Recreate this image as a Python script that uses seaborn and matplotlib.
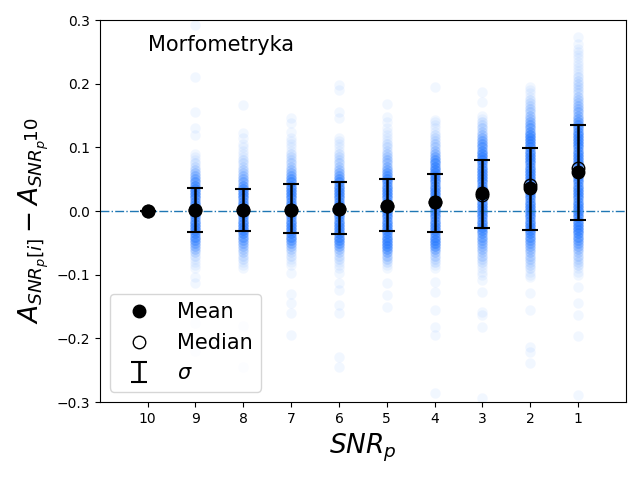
import numpy as np
import pandas as pd
import matplotlib
matplotlib.use("Agg")
import matplotlib.pyplot as plt
from matplotlib.transforms import IdentityTransform
import seaborn as sns

labels = ["10", "9", "8", "7", "6", "5", "4", "3", "2", "1"]

# A(SNR_p[i]) - A(SNR_p 10) for every galaxy, binned at 0.005: bin centres and
# how many galaxies fall in each bin per SNR_p (estimated from the point clouds)
grid = [-0.100, -0.095, -0.090, -0.085, -0.080, -0.075, -0.070, -0.065, -0.060, -0.055,
        -0.050, -0.045, -0.040, -0.035, -0.030, -0.025, -0.020, -0.015, -0.010, -0.005,
        0.000, 0.005, 0.010, 0.015, 0.020, 0.025, 0.030, 0.035, 0.040, 0.045,
        0.050, 0.055, 0.060, 0.065, 0.070, 0.075, 0.080, 0.085, 0.090, 0.095,
        0.100, 0.105, 0.110, 0.115, 0.120, 0.125, 0.130, 0.135, 0.140, 0.145,
        0.150, 0.155, 0.160, 0.165, 0.170, 0.175, 0.180, 0.185, 0.190, 0.195,
        0.200, 0.205, 0.210, 0.215, 0.220, 0.225, 0.230, 0.235, 0.240, 0.245, 0.250]

cnt9 = [0, 0, 1, 1, 1, 1, 2, 3, 4, 5, 6, 8, 10, 10, 10, 10, 10, 10, 10, 10,
        10, 10, 10, 10, 10, 10, 10, 10, 10, 8, 6, 5, 4, 3, 2, 2, 1, 1, 1, 0,
        0, 0, 0, 0, 0, 0, 0, 0, 0, 0, 0, 0, 0, 0, 0, 0, 0, 0, 0, 0,
        0, 0, 0, 0, 0, 0, 0, 0, 0, 0, 0]
cnt8 = [0, 0, 1, 1, 1, 2, 2, 3, 3, 4, 5, 6, 8, 10, 10, 10, 10, 10, 10, 10,
        10, 10, 10, 10, 10, 10, 10, 10, 8, 6, 5, 4, 3, 3, 2, 2, 2, 1, 1, 1,
        1, 1, 0, 1, 0, 0, 0, 0, 0, 0, 0, 0, 0, 0, 0, 0, 0, 0, 0, 0,
        0, 0, 0, 0, 0, 0, 0, 0, 0, 0, 0]
cnt7 = [0, 0, 0, 1, 1, 1, 2, 2, 3, 4, 6, 8, 10, 10, 10, 10, 10, 10, 10, 10,
        10, 10, 10, 10, 10, 10, 10, 10, 10, 10, 8, 6, 5, 4, 3, 3, 2, 2, 2, 1,
        1, 1, 1, 1, 0, 1, 0, 0, 0, 0, 0, 0, 0, 0, 0, 0, 0, 0, 0, 0,
        0, 0, 0, 0, 0, 0, 0, 0, 0, 0, 0]
cnt6 = [0, 0, 1, 1, 1, 2, 2, 3, 4, 6, 8, 10, 10, 10, 10, 10, 10, 10, 10, 10,
        10, 10, 10, 10, 10, 10, 10, 10, 10, 10, 8, 6, 5, 4, 3, 3, 2, 2, 2, 1,
        1, 1, 1, 1, 0, 0, 0, 0, 0, 0, 0, 0, 0, 0, 0, 0, 0, 0, 0, 0,
        0, 0, 0, 0, 0, 0, 0, 0, 0, 0, 0]
cnt5 = [0, 0, 1, 1, 2, 3, 4, 6, 8, 10, 10, 10, 10, 10, 10, 10, 10, 10, 10, 10,
        10, 10, 10, 10, 10, 10, 10, 10, 10, 10, 10, 8, 7, 6, 5, 4, 4, 3, 3, 2,
        2, 2, 1, 1, 1, 1, 1, 0, 1, 0, 0, 0, 0, 0, 0, 0, 0, 0, 0, 0,
        0, 0, 0, 0, 0, 0, 0, 0, 0, 0, 0]
cnt4 = [0, 0, 1, 1, 2, 2, 3, 4, 6, 8, 10, 10, 10, 10, 10, 10, 10, 10, 10, 10,
        10, 10, 10, 10, 10, 10, 10, 10, 10, 10, 10, 10, 10, 10, 10, 10, 8, 6, 5, 4,
        3, 3, 2, 2, 2, 1, 1, 1, 1, 0, 0, 0, 0, 0, 0, 0, 0, 0, 0, 0,
        0, 0, 0, 0, 0, 0, 0, 0, 0, 0, 0]
cnt3 = [1, 1, 1, 1, 2, 2, 3, 3, 4, 4, 5, 6, 7, 8, 9, 10, 10, 10, 10, 10,
        10, 10, 10, 10, 10, 10, 10, 10, 10, 10, 10, 10, 10, 10, 10, 10, 10, 10, 10, 9,
        8, 7, 6, 5, 4, 3, 3, 2, 2, 1, 1, 0, 0, 0, 0, 0, 0, 0, 0, 0,
        0, 0, 0, 0, 0, 0, 0, 0, 0, 0, 0]
cnt2 = [1, 1, 2, 2, 2, 3, 3, 4, 4, 5, 6, 7, 9, 10, 10, 10, 10, 10, 10, 10,
        10, 10, 10, 10, 10, 10, 10, 10, 10, 10, 10, 10, 10, 10, 10, 10, 10, 10, 10, 10,
        10, 10, 10, 10, 10, 8, 7, 6, 5, 4, 4, 3, 3, 2, 2, 2, 1, 1, 1, 1,
        0, 0, 0, 0, 0, 0, 0, 0, 0, 0, 0]
cnt1 = [1, 1, 1, 2, 2, 2, 3, 3, 4, 5, 6, 7, 9, 10, 10, 10, 10, 10, 10, 10,
        10, 10, 10, 10, 10, 10, 10, 10, 10, 10, 10, 10, 10, 10, 10, 10, 10, 10, 10, 10,
        10, 10, 10, 10, 10, 10, 10, 8, 7, 6, 5, 5, 4, 4, 3, 3, 3, 2, 2, 2,
        2, 2, 2, 1, 1, 1, 1, 1, 1, 1, 1]

# isolated galaxies outside the binned clouds
out10 = [0.0, 0.0]
out9 = [0.292, 0.210, 0.156, 0.130, 0.119, -0.104, -0.113, -0.176, -0.220]
out8 = [0.166, 0.122, -0.180, -0.245]
out7 = [0.146, 0.138, -0.097, -0.130, -0.145, -0.160, -0.195]
out6 = [0.198, 0.190, 0.156, 0.146, -0.097, -0.113, -0.124, -0.148, -0.160, -0.229, -0.245]
out5 = [0.169, 0.148, -0.113, -0.132, -0.150]
out4 = [0.195, 0.143, -0.111, -0.127, -0.155, -0.182, -0.195, -0.286]
out3 = [0.187, 0.172, -0.108, -0.127, -0.158, -0.163, -0.182, -0.294]
out2 = [-0.103, -0.129, -0.155, -0.213, -0.221, -0.238]
out1 = [0.274, 0.262, 0.255, -0.120, -0.145, -0.163, -0.197, -0.289]

means = [0.000, 0.001, 0.001, 0.002, 0.004, 0.008, 0.014, 0.028, 0.036, 0.062]
medians = [0.000, 0.001, 0.001, 0.002, 0.004, 0.008, 0.014, 0.026, 0.041, 0.067]
sig_top = [0.000, 0.036, 0.034, 0.042, 0.045, 0.050, 0.059, 0.080, 0.099, 0.136]
sig_bot = [0.000, -0.033, -0.031, -0.035, -0.036, -0.031, -0.033, -0.026, -0.030, -0.014]

counts = [None, cnt9, cnt8, cnt7, cnt6, cnt5, cnt4, cnt3, cnt2, cnt1]
singles = [out10, out9, out8, out7, out6, out5, out4, out3, out2, out1]
rows = []
for lab, cnt, extra in zip(labels, counts, singles):
    vals = list(extra)
    if cnt is not None:
        vals += list(np.repeat(grid, cnt))
    rows += [(lab, v) for v in vals]
df = pd.DataFrame(rows, columns=["snr", "diff"])

fig, ax = plt.subplots(figsize=(6.4, 4.8), dpi=100)
fig.subplots_adjust(left=0.156, right=0.978, top=0.958, bottom=0.1625)

sns.stripplot(data=df, x="snr", y="diff", order=labels, jitter=False,
              color="#1f78ff", alpha=0.06, size=7.5, linewidth=0, ax=ax, zorder=1)

ax.axhline(0, color="#1f77b4", ls="-.", lw=1, zorder=2)

pos = list(range(len(labels)))
yerr = [[m - b for m, b in zip(means, sig_bot)], [t - m for m, t in zip(means, sig_top)]]
ax.errorbar(pos, means, yerr=yerr, fmt="none", ecolor="k", elinewidth=1.8,
            capsize=6, capthick=1.5, label=r"$\sigma$", zorder=3)
ax.plot(pos, means, "o", color="k", ms=9, ls="none", label="Mean", zorder=4)
ax.plot(pos, medians, "o", mfc="none", mec="k", mew=1, ms=9, ls="none",
        label="Median", zorder=5)

ax.set_xlim(-1, 10)
ax.set_ylim(-0.3, 0.3)
ax.set_yticks([-0.3, -0.2, -0.1, 0.0, 0.1, 0.2, 0.3])
ax.set_xlabel(r"$SNR_p$", fontsize=19)
ax.set_ylabel(r"$A_{SNR_p[i]} - A_{SNR_p}$", fontsize=19)
ax.yaxis.label.set_y(0.448)
ax.text(0.091, 0.935, "Morfometryka", transform=ax.transAxes, fontsize=15, va="center")

h, l = ax.get_legend_handles_labels()
order = [l.index("Mean"), l.index("Median"), l.index(r"$\sigma$")]
ax.legend([h[i] for i in order], [l[i] for i in order], loc="lower left", fontsize=15)

# the trailing "10" of the y label sits a bit raised, after the subscript
fig.canvas.draw()
bb = ax.yaxis.label.get_window_extent()
fig.text(39.5, bb.y1 - 1, "10", fontsize=13.3, rotation=90, ha="right", va="bottom",
         transform=IdentityTransform())

fig.savefig("out.png", dpi=100)
